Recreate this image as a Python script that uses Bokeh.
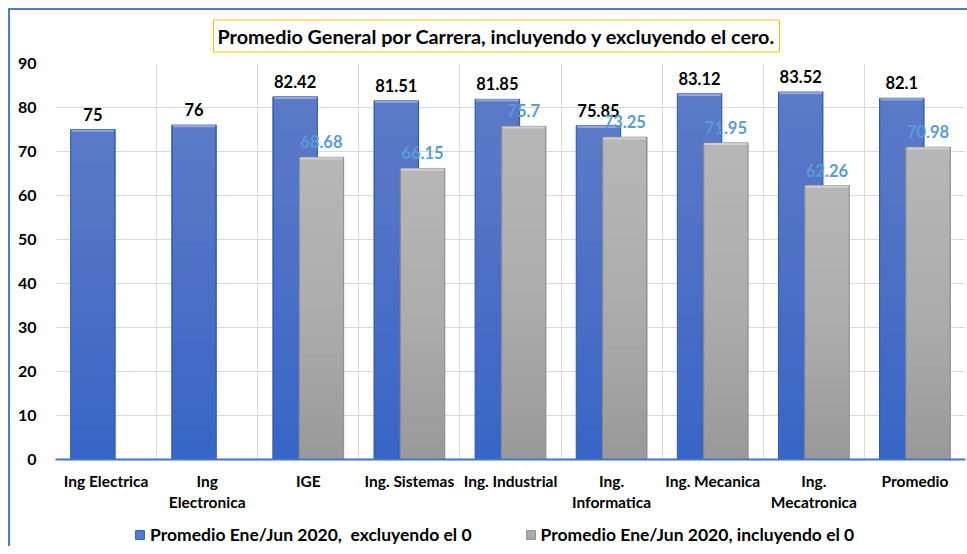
from bokeh.plotting import figure
from bokeh.models import ColumnDataSource, LabelSet, Legend, LegendItem, FixedTicker
from bokeh.layouts import column
from bokeh.core.properties import value
from bokeh.transform import dodge
from bokeh.embed import file_html
from bokeh.resources import INLINE

# ---- data ----
categories = ["Ing Electrica", "Ing\nElectronica", "IGE", "Ing. Sistemas", "Ing. Industrial",
              "Ing.\nInformatica", "Ing. Mecanica", "Ing.\nMecatronica", "Promedio"]
excluyendo = [75, 76, 82.42, 81.51, 81.85, 75.85, 83.12, 83.52, 82.1]
incluyendo = [None, None, 68.68, 66.15, 75.7, 73.25, 71.95, 62.26, 70.98]
y_ticks = [0, 10, 20, 30, 40, 50, 60, 70, 80, 90]
serie_excl = "Promedio Ene/Jun 2020,  excluyendo el 0"
serie_incl = "Promedio Ene/Jun 2020, incluyendo el 0"
titulo = "Promedio General por Carrera, incluyendo y excluyendo el cero."

FONT = "Lato"
BAR_W = 0.44
OFF = 0.13
BLUE_BASE, BLUE_EDGE = "#3866C6", "#2F58AE"
GRAY_BASE, GRAY_EDGE = "#9A9A9A", "#8A8A8A"

def fmt(v):
    return "%g" % v

ex_src = ColumnDataSource(dict(cat=categories, val=excluyendo,
                               lbl=[fmt(v) for v in excluyendo]))
inc_cats = [c for c, v in zip(categories, incluyendo) if v is not None]
inc_vals = [v for v in incluyendo if v is not None]
in_src = ColumnDataSource(dict(cat=inc_cats, val=inc_vals, lbl=[fmt(v) for v in inc_vals]))

p = figure(frame_width=910, frame_height=396, x_range=categories, y_range=(0, 90),
           output_backend="svg", toolbar_location=None,
           min_border_left=45, min_border_top=53, min_border_right=2,
           min_border_bottom=59, title=titulo)
p.x_range.range_padding = 0
p.outline_line_color = None
p.background_fill_color = "white"
p.border_fill_color = "white"

# title
p.title.text_font = FONT
p.title.text_font_style = "bold"
p.title.text_font_size = "19.8px"
p.title.text_color = "black"
p.title.align = "left"
p.title.offset = 158
p.title.vertical_align = "top"
p.title.border_line_color = "#FFC000"
p.title.border_line_width = 1
p.title.background_fill_color = "white"
p.title.padding = 4
p.title.standoff = 19

# grids
p.ygrid.grid_line_color = "#D9D9D9"
p.ygrid.ticker = FixedTicker(ticks=y_ticks)
p.xgrid.grid_line_color = "#D9D9D9"
p.xgrid.ticker = FixedTicker(ticks=list(range(len(categories) + 1)))

# axes
p.yaxis.ticker = FixedTicker(ticks=y_ticks)
p.yaxis.axis_line_color = None
p.yaxis.major_tick_line_color = None
p.yaxis.minor_tick_line_color = None
p.yaxis.major_label_standoff = 13
p.yaxis.major_label_text_font = FONT
p.yaxis.major_label_text_font_style = "bold"
p.yaxis.major_label_text_font_size = "16px"
p.yaxis.major_label_text_color = "black"

p.xaxis.axis_line_color = "#4472C4"
p.xaxis.axis_line_width = 2
p.xaxis.major_tick_line_color = None
p.xaxis.minor_tick_line_color = None
p.xaxis.major_label_standoff = 6
p.xaxis.major_label_text_font = FONT
p.xaxis.major_label_text_font_style = "bold"
p.xaxis.major_label_text_font_size = "15.5px"
p.xaxis.major_label_text_color = "black"

# ---- bars with vertical gradient ----
N = 20
def gradient_bars(vals, cats, offset, base, edge, alpha):
    r0 = p.vbar(x=dodge("cat", offset, range=p.x_range), top="val", width=BAR_W,
                source=ColumnDataSource(dict(cat=cats, val=vals)),
                fill_color=base, line_color=edge, line_width=1)
    for k in range(1, N):
        frac = k / N
        p.vbar(x=dodge("cat", offset, range=p.x_range), top="val", bottom="b",
               width=BAR_W - 0.012,
               source=ColumnDataSource(dict(cat=cats, val=vals,
                                            b=[v * frac for v in vals])),
               fill_color="white", fill_alpha=alpha, line_color=None)
    p.vbar(x=dodge("cat", offset, range=p.x_range), top="val", bottom="b",
           width=BAR_W - 0.02,
           source=ColumnDataSource(dict(cat=cats, val=vals,
                                        b=[v - 0.5 for v in vals])),
           fill_color="white", fill_alpha=0.35, line_color=None)
    return r0

gradient_bars(excluyendo, categories, -OFF, BLUE_BASE, BLUE_EDGE, 0.013)
gradient_bars(inc_vals, inc_cats, OFF, GRAY_BASE, GRAY_EDGE, 0.023)

# ---- value labels ----
p.add_layout(LabelSet(x=dodge("cat", -OFF, range=p.x_range), y="val", text="lbl",
                      source=ex_src, text_align="center", text_baseline="bottom",
                      y_offset=9, text_font=value(FONT), text_font_style="bold",
                      text_font_size="16.5px", text_color="black"))
p.add_layout(LabelSet(x=dodge("cat", OFF, range=p.x_range), y="val", text="lbl",
                      source=in_src, text_align="center", text_baseline="bottom",
                      y_offset=9, text_font=value(FONT), text_font_style="bold",
                      text_font_size="16.5px", text_color="#5B9BD5"))

# ---- legend strip below the chart ----
leg = figure(width=957, height=28, x_range=(0, 1), y_range=(0, 1),
             output_backend="svg", toolbar_location=None,
             x_axis_location=None, y_axis_location=None,
             min_border=0, outline_line_color=None)
leg.xgrid.visible = False
leg.ygrid.visible = False
leg.border_fill_color = "white"
# legend-only swatch renderers, kept outside the visible range of this strip
swatch = dict(x=[-1.0], top=[-1.0])
r1 = leg.vbar(x="x", top="top", width=0.1, source=ColumnDataSource(swatch),
              fill_color="#4F7CD2", line_color=BLUE_EDGE)
r2 = leg.vbar(x="x", top="top", width=0.1, source=ColumnDataSource(swatch),
              fill_color="#ABABAB", line_color=GRAY_EDGE)
legend = Legend(items=[LegendItem(label=serie_excl, renderers=[r1]),
                       LegendItem(label=serie_incl, renderers=[r2])],
                orientation="horizontal", location=(79, 1),
                label_text_font=FONT, label_text_font_style="bold",
                label_text_font_size="17.5px", label_text_color="black",
                glyph_width=11, glyph_height=11, spacing=53,
                border_line_color=None, background_fill_alpha=0,
                margin=0, padding=2, label_standoff=5)
leg.add_layout(legend, "center")

layout = column(p, leg, spacing=0, margin=(8, 0, 0, 8),
                styles={"border-top": "2px solid #4A7BD0",
                        "border-left": "2px solid #4A7BD0"})

open("out.html", "w").write(file_html(layout, INLINE))
